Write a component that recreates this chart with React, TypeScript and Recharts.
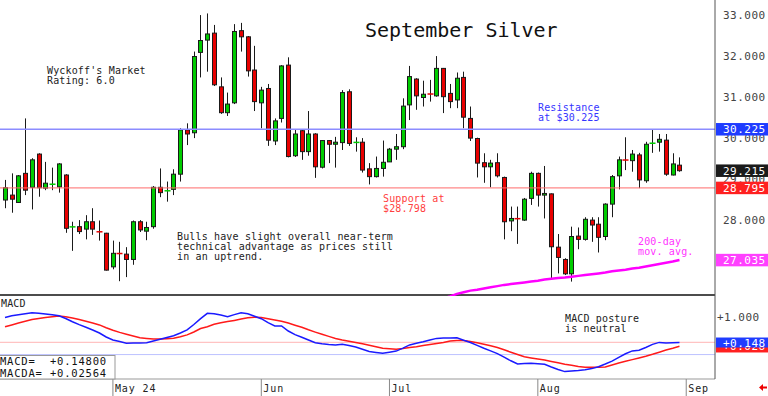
import React from 'react';
import { ComposedChart, Bar, Line, XAxis, YAxis, ReferenceLine } from 'recharts';

const MONO = '"DejaVu Sans Mono", "Liberation Mono", monospace';

// daily bars, early April -> Aug 30 2024
const opens = [
  28.50, 28.62, 28.44, 29.15, 28.81, 29.62, 28.79, 28.88, 28.82, 29.11,
  27.84, 27.85, 27.79, 27.97, 27.73, 27.69, 26.87, 27.20, 27.18, 27.05,
  27.97, 27.74, 27.85, 28.81, 28.72, 28.76, 29.13, 30.21, 30.14, 32.10,
  32.40, 32.57, 31.26, 30.63, 30.87, 32.63, 32.48, 31.67, 30.87, 31.22,
  29.94, 30.49, 31.79, 29.58, 30.19, 29.68, 30.11, 29.30, 29.95, 29.86,
  29.90, 31.14, 29.90, 29.91, 29.26, 29.07, 29.27, 29.43, 29.74, 29.80,
  30.82, 31.45, 31.00, 31.09, 31.04, 31.71, 31.10, 30.94, 31.49, 30.49,
  30.00, 29.41, 29.31, 29.41, 29.05, 27.99, 28.05, 28.01, 28.54, 29.15,
  28.62, 28.65, 27.35, 27.05, 26.70, 27.62, 27.54, 28.01, 27.91, 27.61,
  28.40, 29.09, 29.48, 29.46, 29.60, 28.97, 29.88, 29.91, 29.96, 29.11,
  29.35,
];
const highs = [
  28.99, 29.15, 29.11, 30.49, 29.52, 29.64, 29.43, 29.29, 29.40, 29.13,
  27.97, 28.01, 28.13, 28.30, 28.00, 27.70, 27.51, 27.48, 27.35, 28.00,
  28.01, 27.97, 28.84, 29.27, 28.95, 29.25, 30.25, 30.37, 32.12, 33.01,
  33.05, 32.77, 31.49, 31.12, 32.79, 32.82, 32.50, 32.26, 31.26, 31.33,
  30.49, 31.79, 31.98, 30.21, 30.22, 30.67, 30.13, 29.96, 29.96, 30.04,
  31.18, 31.20, 30.03, 30.01, 29.40, 29.56, 29.95, 29.77, 30.11, 30.98,
  31.77, 31.47, 31.41, 31.43, 32.01, 31.72, 31.33, 31.61, 31.63, 30.78,
  30.02, 29.64, 29.48, 29.64, 29.07, 28.34, 28.34, 28.55, 29.19, 29.17,
  29.33, 28.66, 27.67, 27.08, 27.85, 27.83, 28.08, 28.08, 28.08, 28.42,
  29.11, 29.56, 30.03, 29.72, 29.65, 29.92, 30.21, 30.11, 30.11, 29.64,
  29.54,
];
const lows = [
  28.30, 28.19, 28.43, 28.62, 28.27, 28.58, 28.74, 28.74, 28.68, 27.70,
  27.26, 27.67, 27.54, 27.65, 27.51, 26.78, 26.81, 26.52, 26.62, 26.92,
  27.72, 27.52, 27.80, 28.57, 28.46, 28.62, 28.95, 29.84, 30.01, 31.49,
  31.63, 31.28, 30.60, 30.55, 30.84, 32.12, 31.51, 30.67, 30.25, 29.82,
  29.84, 30.39, 29.54, 29.55, 29.48, 29.58, 29.04, 29.27, 29.40, 29.29,
  29.72, 29.82, 29.68, 29.17, 28.88, 29.05, 29.07, 29.43, 29.48, 29.74,
  30.45, 30.70, 30.78, 30.90, 31.02, 30.62, 30.74, 30.74, 30.25, 29.94,
  29.05, 28.92, 28.81, 29.05, 27.54, 27.74, 27.43, 27.99, 28.38, 28.34,
  28.05, 26.59, 26.71, 26.67, 26.51, 27.30, 27.51, 27.48, 27.22, 27.52,
  28.08, 28.76, 29.23, 29.19, 28.79, 28.92, 29.65, 29.68, 29.09, 29.10,
  29.19,
];
const closes = [
  28.80, 28.52, 29.09, 28.74, 29.48, 28.80, 28.91, 28.89, 29.38, 27.81,
  27.85, 27.73, 27.97, 27.79, 27.72, 26.79, 27.20, 27.19, 27.05, 27.97,
  27.77, 27.83, 28.81, 28.68, 28.73, 29.13, 30.21, 30.11, 32.00, 32.39,
  32.55, 31.31, 30.63, 30.84, 32.61, 32.48, 31.65, 30.90, 31.18, 29.96,
  30.43, 31.77, 29.56, 30.11, 29.68, 30.11, 29.31, 29.95, 29.86, 29.91,
  31.12, 29.88, 29.91, 29.23, 29.07, 29.27, 29.42, 29.74, 29.80, 30.79,
  31.51, 31.04, 31.08, 31.08, 31.71, 31.02, 30.90, 31.47, 30.52, 30.01,
  29.40, 29.31, 29.40, 29.09, 27.97, 28.05, 28.04, 28.52, 29.15, 28.62,
  28.66, 27.36, 27.10, 26.70, 27.61, 27.54, 28.03, 27.89, 27.59, 28.40,
  29.07, 29.48, 29.47, 29.62, 28.99, 29.86, 29.89, 29.98, 29.13, 29.38,
  29.215,
];
// 200-day moving average, only the visible tail
const ma200: (number | null)[] = [
  ...Array(65).fill(null),
  26.10, 26.15, 26.21, 26.25, 26.29, 26.31, 26.34, 26.37, 26.40, 26.43,
  26.45, 26.47, 26.49, 26.51, 26.53, 26.56, 26.58, 26.60, 26.61, 26.63,
  26.65, 26.67, 26.69, 26.71, 26.73, 26.76, 26.78, 26.80, 26.83, 26.85,
  26.88, 26.91, 26.94, 26.97, 27.00, 27.035,
];
const macdLine = [
  0.974, 1.030, 1.063, 1.096, 1.129, 1.116, 1.089, 1.066, 1.033, 0.941,
  0.835, 0.739, 0.650, 0.561, 0.462, 0.330, 0.231, 0.182, 0.125, 0.129,
  0.135, 0.142, 0.198, 0.254, 0.314, 0.373, 0.462, 0.564, 0.743, 0.937,
  1.112, 1.099, 1.056, 1.003, 1.069, 1.129, 1.099, 1.017, 0.934, 0.802,
  0.693, 0.693, 0.528, 0.409, 0.323, 0.231, 0.142, 0.109, 0.083, 0.069,
  0.089, 0.046, 0.000, -0.076, -0.149, -0.178, -0.208, -0.172, -0.135, -0.036,
  0.069, 0.122, 0.172, 0.228, 0.284, 0.294, 0.300, 0.307, 0.221, 0.149,
  0.053, -0.043, -0.129, -0.218, -0.337, -0.455, -0.561, -0.548, -0.538, -0.551,
  -0.571, -0.660, -0.743, -0.812, -0.792, -0.776, -0.752, -0.713, -0.650, -0.561,
  -0.465, -0.343, -0.224, -0.129, -0.106, -0.017, 0.086, 0.152, 0.130, 0.140,
  0.148,
];
const macdAvg = [
  0.667, 0.729, 0.792, 0.848, 0.904, 0.941, 0.970, 0.997, 1.020, 0.997,
  0.960, 0.908, 0.851, 0.795, 0.729, 0.637, 0.554, 0.482, 0.422, 0.366,
  0.307, 0.284, 0.264, 0.261, 0.274, 0.290, 0.337, 0.399, 0.495, 0.611,
  0.670, 0.749, 0.799, 0.838, 0.878, 0.921, 0.967, 0.980, 0.974, 0.931,
  0.888, 0.848, 0.789, 0.719, 0.650, 0.568, 0.492, 0.419, 0.350, 0.281,
  0.231, 0.188, 0.149, 0.106, 0.059, 0.007, -0.043, -0.059, -0.073, -0.050,
  -0.020, 0.007, 0.046, 0.083, 0.119, 0.152, 0.198, 0.215, 0.218, 0.178,
  0.139, 0.089, 0.040, -0.017, -0.092, -0.172, -0.248, -0.323, -0.360, -0.396,
  -0.432, -0.479, -0.521, -0.568, -0.604, -0.640, -0.670, -0.670, -0.670, -0.657,
  -0.594, -0.528, -0.472, -0.416, -0.360, -0.304, -0.241, -0.172, -0.100, -0.040,
  0.026,
];

const priceTicks = [27, 28, 29, 30, 31, 32, 33];
const macdTicks = [0, 1];
const monthIdx = [16, 38, 57, 79, 101];
const monthLabels = ['May 24', 'Jun', 'Jul', 'Aug', 'Sep'];
const EMPTY_SLOTS = 4; // blank days after the last bar

const priceData = Array.from({ length: opens.length + EMPTY_SLOTS }, (_, i) =>
  i < opens.length
    ? { i, o: opens[i], h: highs[i], l: lows[i], c: closes[i], ma: ma200[i] }
    : { i }
);
const macdData = Array.from({ length: macdLine.length + EMPTY_SLOTS }, (_, i) =>
  i < macdLine.length ? { i, macd: macdLine[i], avg: macdAvg[i] } : { i }
);

const PRICE_DOMAIN: [number, number] = [26.159, 33.378];
const MACD_DOMAIN: [number, number] = [-1.056, 1.683];

const UP = '#00cc00';
const DOWN = '#e80000';
const EDGE = '#1a1a1a';

const Candle = (props: any) => {
  const { x, y, width, height, payload } = props;
  if (!payload || payload.h == null) return null;
  const top = Math.min(y, y + height);
  const k = Math.abs(height) / (payload.h - payload.l);
  const py = (v: number) => top + (payload.h - v) * k;
  const cx = Math.round(x + width / 2) + 0.5;
  const up = payload.c >= payload.o;
  const bt = py(Math.max(payload.o, payload.c));
  const bb = py(Math.min(payload.o, payload.c));
  const col = up ? UP : DOWN;
  return (
    <g>
      <line x1={cx} x2={cx} y1={py(payload.h)} y2={py(payload.l)} stroke={EDGE} strokeWidth={1} />
      {bb - bt < 1.5 ? (
        <line x1={cx - 3} x2={cx + 3} y1={(bt + bb) / 2} y2={(bt + bb) / 2} stroke={col} strokeWidth={1.5} />
      ) : (
        <rect x={cx - 2} y={bt} width={4} height={bb - bt} fill={col} stroke={EDGE} strokeWidth={1} />
      )}
    </g>
  );
};

const badge = (text: string, bg: string, h = 12.5, dy = 0) => (props: any) => {
  const vb = props.viewBox || {};
  const left = vb.x + vb.width + 1;
  const cy = vb.y + dy;
  return (
    <g>
      <rect x={left} y={cy - h / 2} width={52} height={h} fill={bg} />
      <text x={left + 7} y={cy + 4} fill="#fff" fontSize={11} letterSpacing={0.5} fontFamily={MONO}>
        {text}
      </text>
    </g>
  );
};

const MonthTick = (props: any) => {
  const { x, y, payload } = props;
  const label = monthLabels[monthIdx.indexOf(payload.value)];
  return (
    <g>
      <line x1={x} x2={x} y1={y} y2={y + 17} stroke="#888" />
      <text x={x + 2} y={y + 13} fontSize={10} letterSpacing={0.9} fontFamily={MONO} fill="#222">
        {label}
      </text>
    </g>
  );
};

const axisFont = { fill: '#444', fontSize: 11, fontFamily: MONO, letterSpacing: 0.5 };
const xPad = { left: 1.63, right: 5.17 };

const note = { fontFamily: MONO, fontSize: 10, letterSpacing: 0.15 };

const abs = (top: number): React.CSSProperties => ({ position: 'absolute', left: 0, top });

export default function App() {
  return (
    <div style={{ position: 'relative', width: 768, height: 396, background: '#fff', overflow: 'hidden' }}>
      <style>{'body{margin:0}'}</style>

      {/* price panel */}
      <div style={abs(0)}>
        <ComposedChart width={768} height={296} data={priceData} margin={{ top: 0, right: 0, left: 0, bottom: 0 }}>
          <XAxis dataKey="i" type="category" hide padding={xPad} />
          <YAxis
            orientation="right"
            width={53}
            domain={PRICE_DOMAIN}
            allowDataOverflow
            ticks={priceTicks}
            tickFormatter={(v: number) => v.toFixed(3)}
            tick={axisFont}
            axisLine={{ stroke: '#555' }}
            tickLine={false}
          />
          <ReferenceLine y={30.225} stroke="#8c8cff" strokeWidth={1.5} />
          <ReferenceLine y={28.795} stroke="#ff6b6b" strokeWidth={1} />
          <ReferenceLine y={26.183} stroke="#111" strokeWidth={1.5} />
          <Bar dataKey={(d: any) => (d.h == null ? null : [d.l, d.h])} shape={Candle} isAnimationActive={false} />
          <Line dataKey="ma" stroke="#ff00ff" strokeWidth={2.5} dot={false} isAnimationActive={false} />
        </ComposedChart>
      </div>
      {/* price value badges, drawn above the axis labels */}
      <div style={abs(0)}>
        <ComposedChart width={768} height={296} data={priceData} margin={{ top: 0, right: 53, left: 0, bottom: 0 }}>
          <XAxis dataKey="i" type="category" hide padding={xPad} />
          <YAxis hide domain={PRICE_DOMAIN} allowDataOverflow />
          <ReferenceLine y={30.225} stroke="none" label={badge('30.225', '#1f3cff')} />
          <ReferenceLine y={29.215} stroke="none" label={badge('29.215', '#1a1a1a')} />
          <ReferenceLine y={28.795} stroke="none" label={badge('28.795', '#ff2020')} />
          <ReferenceLine y={27.035} stroke="none" label={badge('27.035', '#ff40ff')} />
        </ComposedChart>
      </div>

      {/* MACD panel */}
      <div style={abs(296)}>
        <ComposedChart width={768} height={100} data={macdData} margin={{ top: 0, right: 0, left: 0, bottom: 0 }}>
          <XAxis
            dataKey="i"
            type="category"
            scale="band"
            padding={xPad}
            ticks={monthIdx}
            interval={0}
            height={17}
            tickSize={0}
            tickMargin={0}
            tickLine={false}
            axisLine={{ stroke: '#999' }}
            tick={<MonthTick />}
          />
          <YAxis
            orientation="right"
            width={53}
            domain={MACD_DOMAIN}
            allowDataOverflow
            ticks={macdTicks}
            tickFormatter={(v: number) => (v === 1 ? '+1.000' : '')}
            tick={axisFont}
            tickSize={0}
            tickMargin={2}
            axisLine={{ stroke: '#555' }}
            tickLine={false}
          />
          <ReferenceLine y={0.155} stroke="#ffb4b4" strokeWidth={1} />
          <ReferenceLine y={-0.25} stroke="#bcc2ff" strokeWidth={1} />
          <Line dataKey="avg" stroke="#ff1a1a" strokeWidth={1.5} dot={false} isAnimationActive={false} />
          <Line dataKey="macd" stroke="#1a1aff" strokeWidth={1.5} dot={false} isAnimationActive={false} />
        </ComposedChart>
      </div>
      <div style={abs(296)}>
        <ComposedChart width={768} height={100} data={macdData} margin={{ top: 0, right: 53, left: 0, bottom: 17 }}>
          <XAxis dataKey="i" type="category" scale="band" hide padding={xPad} />
          <YAxis hide domain={MACD_DOMAIN} allowDataOverflow />
          <ReferenceLine y={0.02564} stroke="none" label={badge('+0.026', '#ff2020', 12.5, 0)} />
          <ReferenceLine y={0.148} stroke="none" label={badge('+0.148', '#1f3cff', 10, 0)} />
        </ComposedChart>
      </div>

      {/* annotations */}
      <svg width={768} height={396} style={{ position: 'absolute', left: 0, top: 0, pointerEvents: 'none' }}>
        <text x={365} y={37} fontFamily={MONO} fontSize={20} fill="#111">September Silver</text>
        <g {...note} fill="#222">
          <text x={47} y={74}>Wyckoff's Market</text>
          <text x={47} y={84}>Rating: 6.0</text>
          <text x={177} y={239.5}>Bulls have slight overall near-term</text>
          <text x={177} y={250}>technical advantage as prices still</text>
          <text x={177} y={260}>in an uptrend.</text>
          <text x={565} y={321.5}>MACD posture</text>
          <text x={565} y={331.5}>is neutral</text>
          <text x={1} y={306.5}>MACD</text>
        </g>
        <g {...note} fill="#3535ff">
          <text x={538} y={111}>Resistance</text>
          <text x={538} y={121}>at $30.225</text>
        </g>
        <g {...note} fill="#ff4040">
          <text x={383} y={202}>Support at</text>
          <text x={383} y={212}>$28.798</text>
        </g>
        <g {...note} fill="#ff33ff">
          <text x={638} y={245}>200-day</text>
          <text x={638} y={255}>mov. avg.</text>
        </g>
        <rect x={-1} y={355.5} width={116} height={23.5} fill="#fff" stroke="#999" />
        <g fontFamily={MONO} fontSize={10.5} letterSpacing={0.8} fill="#111">
          <text x={0} y={365}>MACD=</text>
          <text x={50} y={365}>+0.14800</text>
          <text x={0} y={376.5}>MACDA=</text>
          <text x={50} y={376.5}>+0.02564</text>
        </g>
        <polygon points="759,387.5 763,384 763,386.5 767,386.5 767,388.5 763,388.5 763,391" fill="#ee0000" />
      </svg>
    </div>
  );
}
